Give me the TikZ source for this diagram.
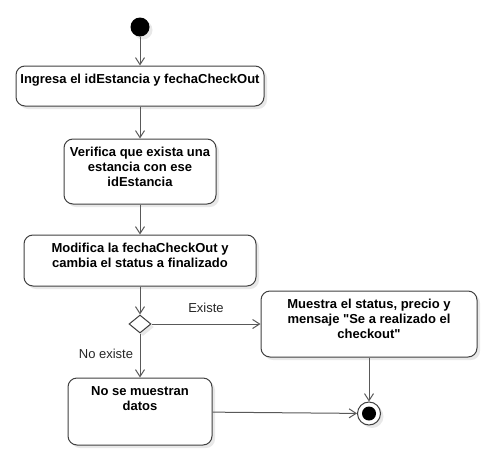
\documentclass[tikz,border=0pt]{standalone}
\usepackage{fontspec}
\setmainfont{Liberation Sans}[Ligatures=TeXOff]
\usetikzlibrary{arrows.meta,shapes.geometric,shadows}

\newcommand{\acttext}[3]{\parbox[c][#2][t]{#1}{\centering\rule{0pt}{17pt}#3}}

\begin{document}
\begin{tikzpicture}[x=1pt,y=-1pt,
    shade/.style={drop shadow={shadow xshift=3pt,shadow yshift=-3pt,fill=black!9,opacity=1}},
    act/.style={draw=black!75,line width=1pt,rounded corners=9pt,fill=white,inner sep=0pt,shade,
        font=\fontsize{13}{15}\selectfont\bfseries},
    flow/.style={draw=black!65,line width=1pt,-{Straight Barb[length=7pt,width=9pt]}},
    guard/.style={font=\fontsize{13}{15}\selectfont,text=black!85}]
    \useasboundingbox (0,0) rectangle (500,458);
    % nodos
    \node[circle,fill=black,minimum size=19pt,inner sep=0pt,shade] (start) at (140,27) {};
    \node[act] (ingresa) at (140,86) {\acttext{248pt}{40pt}{Ingresa el idEstancia y fechaCheckOut}};
    \node[act] (verifica) at (140,171.5) {\acttext{152pt}{65pt}{Verifica que exista una\\estancia con ese\\idEstancia}};
    \node[act] (modifica) at (140,260.5) {\acttext{232pt}{51pt}{Modifica la fechaCheckOut y\\cambia el status a finalizado}};
    \node[diamond,draw=black!75,line width=1pt,fill=white,minimum width=22pt,minimum height=18pt,inner sep=0pt,shade] (decision) at (140,324) {};
    \node[act] (muestra) at (369,324) {\acttext{216pt}{66pt}{Muestra el status, precio y\\mensaje "Se a realizado el\\checkout"}};
    \node[act] (nodatos) at (140,411.5) {\acttext{144pt}{67pt}{No se muestran\\datos}};
    \node[circle,draw=black!75,line width=1pt,fill=white,minimum size=23pt,inner sep=0pt,shade] (fin) at (369,413.5) {};
    \node[circle,fill=black,minimum size=14pt,inner sep=0pt] (fincore) at (fin) {};
    % etiquetas
    \node[guard] (existe) at (206,308) {Existe};
    \node[guard] (noexiste) at (106,353.5) {No existe};
    % flechas
    \draw[flow] (start) -- (ingresa);
    \draw[flow] (ingresa) -- (verifica);
    \draw[flow] (verifica) -- (modifica);
    \draw[flow] (modifica) -- (decision);
    \draw[flow] (decision) -- (muestra);
    \draw[flow] (decision) -- (nodatos);
    \draw[flow] (muestra) -- (fin);
    \draw[flow] (nodatos) -- (fin);
\end{tikzpicture}
\end{document}
